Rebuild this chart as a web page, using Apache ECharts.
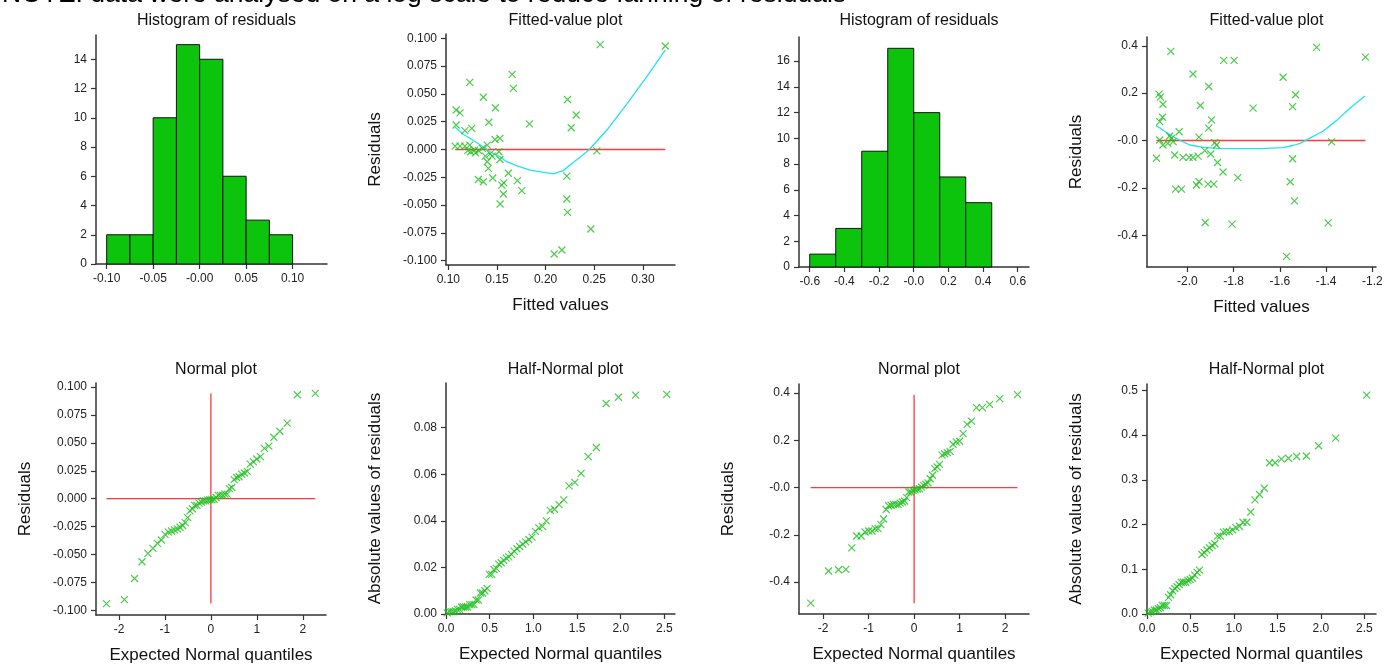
<!DOCTYPE html>
<html>
<head>
<meta charset="utf-8">
<script src="https://cdn.jsdelivr.net/npm/echarts@6/dist/echarts.min.js"></script>
<style>
html,body{margin:0;padding:0;background:#fff;}
#chart{width:1391px;height:668px;}
</style>
</head>
<body>
<div id="chart"></div>
<script>
// ---------- DATA ----------
const mainTitle = "NOTE: data were analysed on a log scale to reduce fanning of residuals";
const panelTitles = ["Histogram of residuals", "Fitted-value plot", "Histogram of residuals", "Fitted-value plot",
                     "Normal plot", "Half-Normal plot", "Normal plot", "Half-Normal plot"];

// Histogram 1 (left analysis)
const hist1Edges = [-0.1, -0.075, -0.05, -0.025, 0, 0.025, 0.05, 0.075, 0.1];
const hist1Counts = [2, 2, 10, 15, 14, 6, 3, 2];
// Histogram 2 (right analysis)
const hist2Edges = [-0.6, -0.45, -0.3, -0.15, 0, 0.15, 0.3, 0.45];
const hist2Counts = [1, 3, 9, 17, 12, 7, 5];

// Fitted values / residuals, analysis 1
const fitted1 = [0.108,0.112,0.108,0.107,0.122,0.124,0.117,0.136,0.1484,0.1416,
  0.1656,0.1669,0.1834,0.2225,0.2314,0.2263,0.2561,0.323,0.2527,0.2218,
  0.2218,0.2225,0.2465,0.2167,0.2088,0.1532,0.1566,0.155,0.157,0.1617,
  0.171,0.1755,0.1309,0.136,0.1457,0.1412,0.140,0.138,0.143,0.148,
  0.153,0.152,0.153,0.145,0.140,0.135,0.127,0.122,0.117,0.123,
  0.128,0.131,0.120,0.112];
const resid1 = [0.0355,0.033,0.022,0.003,0.0604,0.019,0.017,0.047,0.0376,0.0245,
  0.0676,0.055,0.023,0.045,0.031,0.0196,0.0943,0.0931,-0.0013,-0.024,
  -0.0445,-0.0565,-0.0715,-0.0904,-0.094,-0.049,-0.040,-0.032,-0.030,-0.0214,
  -0.028,-0.037,-0.027,-0.029,-0.0256,-0.017,-0.011,-0.006,-0.004,0.009,
  0.010,-0.002,-0.009,-0.006,0.004,0.001,-0.0005,0.004,0.003,-0.002,
  -0.003,-0.001,-0.001,0.003];
// Smooth (cyan) curve, analysis 1
const smooth1X = [0.107,0.115,0.125,0.133,0.143,0.153,0.160,0.170,0.184,0.208,0.218,0.228,0.236,0.245,0.263,0.284,0.304,0.323];
const smooth1Y = [0.020,0.014,0.0085,0.004,-0.002,-0.0065,-0.011,-0.0145,-0.0185,-0.022,-0.019,-0.012,-0.0065,0.000,0.0175,0.0415,0.0655,0.0895];

// Fitted values / residuals, analysis 2
const fitted2 = [-2.072,-1.976,-1.843,-1.798,-1.908,-1.944,-1.716,-1.586,-1.441,-1.230,
  -1.532,-1.545,-1.376,-1.545,-1.555,-1.537,-1.391,-1.571,-1.807,-1.923,
  -1.782,-1.846,-1.870,-2.123,-2.117,-2.106,-2.108,-2.120,-1.896,-1.908,
  -2.036,-2.077,-2.069,-1.950,-2.120,-2.062,-2.106,-1.882,-1.874,-2.134,
  -2.055,-2.019,-1.993,-1.976,-1.954,-1.925,-1.899,-2.051,-2.026,-1.961,
  -1.950,-1.911,-1.886,-2.085];
const resid2 = [0.376,0.281,0.338,0.338,0.228,0.148,0.137,0.267,0.393,0.352,
  0.193,0.143,-0.006,-0.077,-0.174,-0.255,-0.348,-0.489,-0.353,-0.346,
  -0.157,-0.133,-0.093,0.196,0.183,0.153,0.098,0.080,0.087,0.052,
  0.037,0.019,0.009,0.014,0.002,-0.005,-0.019,-0.009,-0.019,-0.075,
  -0.061,-0.071,-0.071,-0.071,-0.066,-0.043,-0.057,-0.205,-0.205,-0.188,
  -0.174,-0.184,-0.184,-0.012];
const smooth2X = [-2.136,-2.10,-2.062,-2.02,-1.99,-1.93,-1.874,-1.80,-1.687,-1.586,-1.54,-1.513,-1.484,-1.412,-1.354,-1.297,-1.232];
const smooth2Y = [0.064,0.040,0.016,-0.005,-0.019,-0.029,-0.033,-0.034,-0.034,-0.030,-0.020,-0.012,0.003,0.040,0.085,0.136,0.188];

// Expected normal quantiles (54 points, ascending)
const normalQ = [-2.2726,-1.8814,-1.6607,-1.4999,-1.3706,-1.2608,-1.1645,-1.0778,-0.9987,-0.9253,
  -0.8565,-0.7916,-0.7299,-0.6709,-0.6141,-0.5592,-0.5059,-0.4541,-0.4034,-0.3538,
  -0.3050,-0.2569,-0.2094,-0.1624,-0.1157,-0.0694,-0.0231,
  0.0231,0.0694,0.1157,0.1624,0.2094,0.2569,0.3050,0.3538,0.4034,0.4541,
  0.5059,0.5592,0.6141,0.6709,0.7299,0.7916,0.8565,0.9253,0.9987,1.0778,
  1.1645,1.2608,1.3706,1.4999,1.6607,1.8814,2.2726];
// Expected half-normal quantiles (54 points, ascending)
const halfNormalQ = [0.0144,0.0376,0.0607,0.0838,0.1070,0.1303,0.1537,0.1771,0.2006,0.2242,
  0.2480,0.2719,0.2959,0.3201,0.3446,0.3692,0.3941,0.4191,0.4445,0.4702,
  0.4961,0.5224,0.5491,0.5762,0.6036,0.6316,0.6601,0.6891,0.7187,0.7489,
  0.7799,0.8116,0.8441,0.8776,0.9120,0.9477,0.9845,1.0227,1.0625,1.1040,
  1.1476,1.1934,1.2419,1.2935,1.3488,1.4085,1.4738,1.5460,1.6273,1.7210,
  1.8328,1.9740,2.1702,2.5265];

// Tick values and labels
const t_h1X = [-0.1,-0.05,0,0.05,0.1], l_h1X = ["-0.10","-0.05","-0.00","0.05","0.10"];
const t_h1Y = [0,2,4,6,8,10,12,14], l_h1Y = ["0","2","4","6","8","10","12","14"];
const t_f1X = [0.10,0.15,0.20,0.25,0.30], l_f1X = ["0.10","0.15","0.20","0.25","0.30"];
const t_r1 = [-0.1,-0.075,-0.05,-0.025,0,0.025,0.05,0.075,0.1];
const l_r1 = ["-0.100","-0.075","-0.050","-0.025","0.000","0.025","0.050","0.075","0.100"];
const t_h2X = [-0.6,-0.4,-0.2,0,0.2,0.4,0.6], l_h2X = ["-0.6","-0.4","-0.2","-0.0","0.2","0.4","0.6"];
const t_h2Y = [0,2,4,6,8,10,12,14,16], l_h2Y = ["0","2","4","6","8","10","12","14","16"];
const t_f2X = [-2.0,-1.8,-1.6,-1.4,-1.2], l_f2X = ["-2.0","-1.8","-1.6","-1.4","-1.2"];
const t_r2 = [-0.4,-0.2,0,0.2,0.4], l_r2 = ["-0.4","-0.2","-0.0","0.2","0.4"];
const t_nq = [-2,-1,0,1,2], l_nq = ["-2","-1","0","1","2"];
const t_hq = [0,0.5,1,1.5,2,2.5], l_hq = ["0.0","0.5","1.0","1.5","2.0","2.5"];
const t_a1 = [0,0.02,0.04,0.06,0.08], l_a1 = ["0.00","0.02","0.04","0.06","0.08"];
const t_a2 = [0,0.1,0.2,0.3,0.4,0.5], l_a2 = ["0.0","0.1","0.2","0.3","0.4","0.5"];

// ---------- BUILD ----------
const FONT = 'Liberation Sans, Arial, Helvetica, sans-serif';
const AX = '#333';
const CROSS = 'path://M0,0L10,10M10,0L0,10';
const GREEN = '#1fbf1f';
const RED = '#ff3b3b';
const CYAN = '#22e2f0';

const grids = [
  {left:96, top:35, width:231, height:229},
  {left:446, top:34, width:229, height:231},
  {left:799, top:37, width:230, height:230},
  {left:1147, top:37, width:229, height:230},
  {left:96, top:383, width:230, height:232},
  {left:446, top:383, width:229, height:231},
  {left:799, top:384, width:230, height:230},
  {left:1147, top:384, width:229, height:230}
];

function axis(gi, min, max, ticks, labels, name, isY) {
  const a = {
    type:'value', gridIndex:gi, min:min, max:max, scale:true,
    axisLine:{show:true, onZero:false, lineStyle:{color:AX, width:1.5}},
    axisTick:{show:true, length:5, inside:false, customValues:ticks, lineStyle:{color:AX, width:1.2}},
    axisLabel:{show:true, customValues:ticks, margin:9, fontSize:12, color:'#222', fontFamily:FONT,
      formatter:function(v){ for (let i=0;i<ticks.length;i++){ if (Math.abs(ticks[i]-v)<1e-9) return labels[i]; } return ''; }},
    splitLine:{show:false}
  };
  if (name) {
    a.name = name; a.nameLocation = 'middle';
    a.nameGap = isY ? 62 : 32;
    a.nameTextStyle = {fontSize:17, color:'#111', fontFamily:FONT};
  }
  return a;
}

function sorted(arr){ return arr.slice().sort((a,b)=>a-b); }
function zip(a,b){ return a.map((v,i)=>[v,b[i]]); }
function histData(edges, counts){ return counts.map((c,i)=>[edges[i], edges[i+1], c]); }

function histSeries(gi, edges, counts) {
  return {
    type:'custom', xAxisIndex:gi, yAxisIndex:gi,
    encode:{x:[0,1], y:2},
    data:histData(edges, counts),
    renderItem:function(params, api){
      const p0 = api.coord([api.value(0), api.value(2)]);
      const p1 = api.coord([api.value(1), 0]);
      return {type:'rect', shape:{x:p0[0], y:p0[1], width:p1[0]-p0[0], height:p1[1]-p0[1]},
              style:{fill:'#0cc40c', stroke:'#111', lineWidth:1}};
    }
  };
}
function scatterSeries(gi, data) {
  return {type:'scatter', xAxisIndex:gi, yAxisIndex:gi, data:data, symbol:CROSS, symbolSize:7,
    itemStyle:{color:'rgba(0,0,0,0)', borderColor:GREEN, borderWidth:1.2}, z:3};
}
function lineSeries(gi, data, color, width, z) {
  return {type:'line', xAxisIndex:gi, yAxisIndex:gi, data:data, showSymbol:false, symbol:'none',
    lineStyle:{color:color, width:width}, z:z || 2};
}

const res1Sorted = sorted(resid1);
const abs1Sorted = sorted(resid1.map(Math.abs));
const res2Sorted = sorted(resid2);
const abs2Sorted = sorted(resid2.map(Math.abs));

const fit1Min = Math.min(...fitted1), fit1Max = Math.max(...fitted1);
const fit2Min = Math.min(...fitted2), fit2Max = Math.max(...fitted2);

const xAxes = [
  axis(0, -0.1115, 0.137, t_h1X, l_h1X),
  axis(1, 0.0976, 0.333, t_f1X, l_f1X, 'Fitted values'),
  axis(2, -0.662, 0.665, t_h2X, l_h2X),
  axis(3, -2.175, -1.184, t_f2X, l_f2X, 'Fitted values'),
  axis(4, -2.5, 2.505, t_nq, l_nq, 'Expected Normal quantiles'),
  axis(5, 0, 2.621, t_hq, l_hq, 'Expected Normal quantiles'),
  axis(6, -2.53, 2.525, t_nq, l_nq, 'Expected Normal quantiles'),
  axis(7, 0, 2.634, t_hq, l_hq, 'Expected Normal quantiles')
];
const yAxes = [
  axis(0, 0, 15.66, t_h1Y, l_h1Y),
  axis(1, -0.1039, 0.1039, t_r1, l_r1, 'Residuals', true),
  axis(2, 0, 17.88, t_h2Y, l_h2Y),
  axis(3, -0.534, 0.437, t_r2, l_r2, 'Residuals', true),
  axis(4, -0.1042, 0.1036, t_r1, l_r1, 'Residuals', true),
  axis(5, 0, 0.0992, t_a1, l_a1, 'Absolute values of residuals', true),
  axis(6, -0.535, 0.438, t_r2, l_r2, 'Residuals', true),
  axis(7, 0, 0.514, t_a2, l_a2, 'Absolute values of residuals', true)
];

const titles = panelTitles.map((t,i)=>({
  text:t, left: grids[i].left + grids[i].width/2, top: i<4 ? 8 : 357, textAlign:'center',
  textStyle:{fontSize:16, fontWeight:'normal', color:'#111', fontFamily:FONT}
}));

const series = [
  histSeries(0, hist1Edges, hist1Counts),
  lineSeries(1, [[fit1Min,0],[fit1Max,0]], RED, 1.5, 1),
  lineSeries(1, zip(smooth1X, smooth1Y), CYAN, 1.3, 2),
  scatterSeries(1, zip(fitted1, resid1)),
  histSeries(2, hist2Edges, hist2Counts),
  lineSeries(3, [[fit2Min,0],[fit2Max,0]], RED, 1.5, 1),
  lineSeries(3, zip(smooth2X, smooth2Y), CYAN, 1.3, 2),
  scatterSeries(3, zip(fitted2, resid2)),
  lineSeries(4, [[normalQ[0],0],[normalQ[normalQ.length-1],0]], RED, 1.3, 1),
  lineSeries(4, [[0,res1Sorted[0]],[0,res1Sorted[res1Sorted.length-1]]], RED, 1.3, 1),
  scatterSeries(4, zip(normalQ, res1Sorted)),
  scatterSeries(5, zip(halfNormalQ, abs1Sorted)),
  lineSeries(6, [[normalQ[0],0],[normalQ[normalQ.length-1],0]], RED, 1.3, 1),
  lineSeries(6, [[0,res2Sorted[0]],[0,res2Sorted[res2Sorted.length-1]]], RED, 1.3, 1),
  scatterSeries(6, zip(normalQ, res2Sorted)),
  scatterSeries(7, zip(halfNormalQ, abs2Sorted))
];

const chart = echarts.init(document.getElementById('chart'), null, {renderer:'canvas'});
chart.setOption({
  animation:false,
  backgroundColor:'#fff',
  title:titles,
  grid:grids,
  xAxis:xAxes,
  yAxis:yAxes,
  series:series,
  graphic:[{type:'text', left:2, top:-19, style:{text:mainTitle, font:'26.5px ' + FONT, fill:'#000'}}]
});
</script>
</body>
</html>
